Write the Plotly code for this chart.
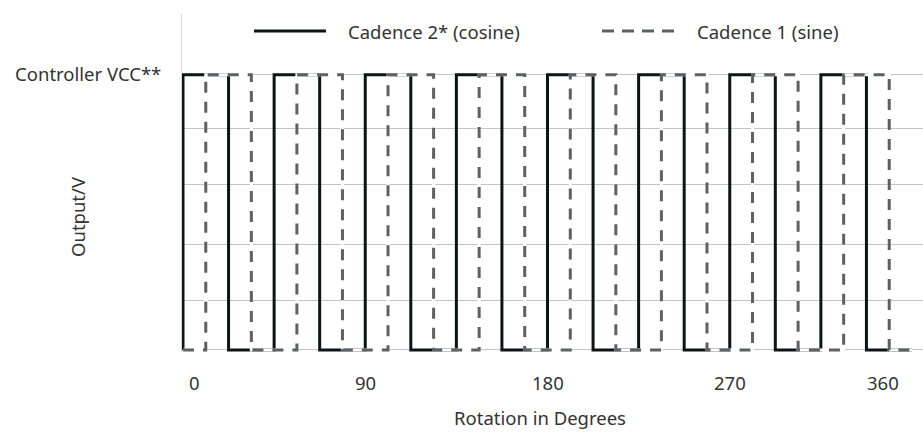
import plotly.graph_objects as go

# ---- data ----
cos_deg = [0, 0, 22.5, 45, 67.5, 90, 112.5, 135, 157.5, 180, 202.5, 225, 247.5,
           270, 292.5, 315, 337.5, 360]
cos_level = [0, 1, 0, 1, 0, 1, 0, 1, 0, 1, 0, 1, 0, 1, 0, 1, 0, 0]

sin_deg = [0, 11.25, 33.75, 56.25, 78.75, 101.25, 123.75, 146.25, 168.75, 191.25,
           213.75, 236.25, 258.75, 281.25, 303.75, 326.25, 348.75, 360]
sin_level = [0, 1, 0, 1, 0, 1, 0, 1, 0, 1, 0, 1, 0, 1, 0, 1, 0, 0]

x_tick_vals = [0, 90, 180, 270, 360]
x_tick_text = ["0", "90", "180", "270", "360"]
y_grid_vals = [0, 0.178, 0.385, 0.602, 0.803, 1.0]
y_tick_text = ["", "", "", "", "", "Controller VCC**"]

series_names = ["Cadence 2* (cosine)", "Cadence 1 (sine)"]

FONT = "Noto Sans"
FS = 18.5
TXT = "#333333"
SOLID = "#0c1516"
DASHC = "#5d6064"

W, H = 923, 432
ML, MR, MT, MB = 182, 0, 14, 80
PW, PH = W - ML - MR, H - MT - MB


def px_x(p):
    return (p - ML) / PW


def px_y(p):
    return (H - MB - p) / PH


fig = go.Figure()
fig.add_trace(go.Scatter(x=cos_deg, y=cos_level, mode="lines", line_shape="hv",
                         name=series_names[0], line=dict(color=SOLID, width=3),
                         showlegend=False))
# white underlay for the dashed series
fig.add_trace(go.Scatter(x=sin_deg, y=sin_level, mode="lines", line_shape="hv",
                         line=dict(color="white", width=3), hoverinfo="skip",
                         showlegend=False))
fig.add_trace(go.Scatter(x=sin_deg, y=sin_level, mode="lines", line_shape="hv",
                         name=series_names[1],
                         line=dict(color=DASHC, width=3, dash="11px,9px"),
                         showlegend=False))

fig.update_xaxes(range=[-0.49, 365.43], showgrid=False, zeroline=False,
                 showline=False, showticklabels=False, ticks="", fixedrange=True)
fig.update_yaxes(range=[-0.0073, 1.2205], tickvals=y_grid_vals, ticktext=y_tick_text,
                 showgrid=True, gridcolor="#c4c4c4", gridwidth=1, zeroline=False,
                 showline=True, linecolor="#d6d6d6", linewidth=1,
                 ticks="", ticklabelstandoff=16, automargin=False,
                 tickfont=dict(family=FONT, size=FS, color=TXT))

ann = []
for v, t in zip(x_tick_vals, x_tick_text):
    anchor = "center"
    shift = 0
    if v == x_tick_vals[0]:
        anchor, shift = "left", 4
    elif v == x_tick_vals[-1]:
        anchor, shift = "right", -11
    ann.append(dict(x=v, y=px_y(383), xref="x", yref="paper", text=t,
                    showarrow=False, xanchor=anchor, yanchor="middle", xshift=shift,
                    font=dict(family=FONT, size=FS, color=TXT)))
ann.append(dict(x=px_x(540), y=px_y(418), xref="paper", yref="paper",
                text="Rotation in Degrees", showarrow=False, xanchor="center",
                yanchor="middle", font=dict(family=FONT, size=FS, color=TXT)))
ann.append(dict(x=px_x(77), y=px_y(217), xref="paper", yref="paper",
                text="Output/V", showarrow=False, textangle=-90, xanchor="center",
                yanchor="middle", font=dict(family=FONT, size=FS, color=TXT)))
# legend
ann.append(dict(x=px_x(346), y=px_y(31), xref="paper", yref="paper",
                text=series_names[0], showarrow=False, xanchor="left",
                yanchor="middle", font=dict(family=FONT, size=FS, color=TXT)))
ann.append(dict(x=px_x(695), y=px_y(31), xref="paper", yref="paper",
                text=series_names[1], showarrow=False, xanchor="left",
                yanchor="middle", font=dict(family=FONT, size=FS, color=TXT)))

shapes = [
    dict(type="line", xref="paper", yref="paper", x0=px_x(254), x1=px_x(326),
         y0=px_y(31), y1=px_y(31), line=dict(color=SOLID, width=3)),
    dict(type="line", xref="paper", yref="paper", x0=px_x(602), x1=px_x(675),
         y0=px_y(31), y1=px_y(31), line=dict(color=DASHC, width=3, dash="12px,8px")),
]

fig.update_layout(width=W, height=H, margin=dict(l=ML, r=MR, t=MT, b=MB),
                  plot_bgcolor="white", paper_bgcolor="white",
                  annotations=ann, shapes=shapes, showlegend=False,
                  font=dict(family=FONT, color=TXT))

fig.write_html("out.html", config={"displayModeBar": False},
               post_script="document.body.style.margin='0';"
                           "document.body.style.padding='0';")
